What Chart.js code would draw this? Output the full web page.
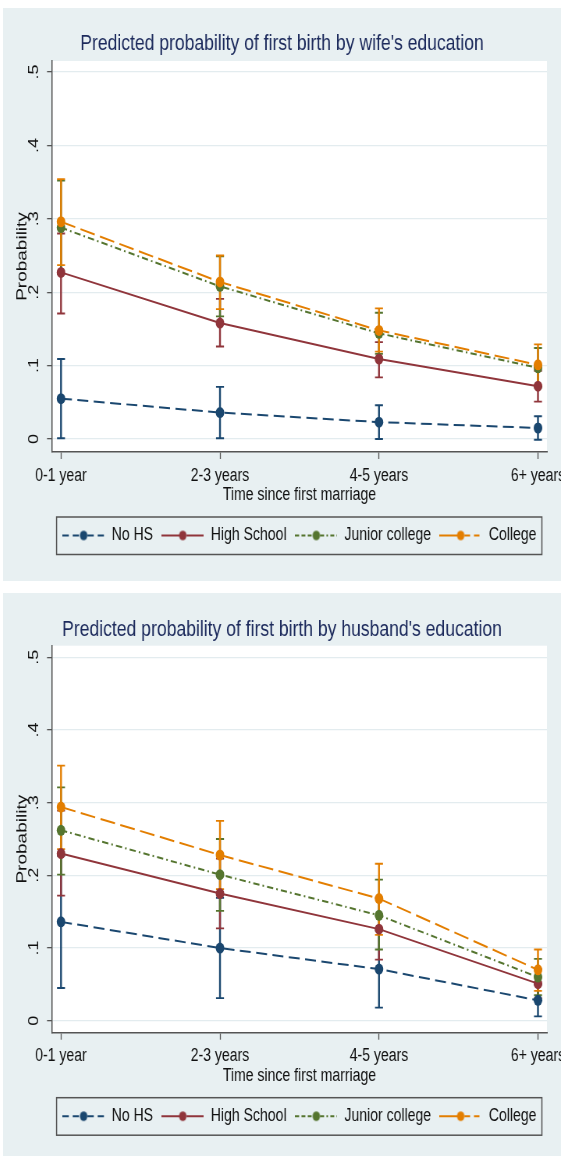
<!DOCTYPE html>
<html>
<head>
<meta charset="utf-8">
<title>Predicted probability of first birth</title>
<script src="https://cdn.jsdelivr.net/npm/chart.js@4.4.1/dist/chart.umd.min.js"></script>
<style>
  html, body { margin: 0; padding: 0; background: #fff; overflow: hidden; }
  body { width: 566px; height: 1156px; position: relative; }
  canvas { position: absolute; }
</style>
</head>
<body>
<canvas id="wifeChart" width="715" height="573" style="left:3px;top:8px;width:558px;height:573px"></canvas>
<canvas id="husbandChart" width="715" height="563" style="left:3px;top:593px;width:558px;height:563px"></canvas>
<script>
// Categories and tick labels
const categories = ['0-1 year', '2-3 years', '4-5 years', '6+ years'];
const seriesNames = ['No HS', 'High School', 'Junior college', 'College'];
const yTicks = [0, 0.1, 0.2, 0.3, 0.4, 0.5];
const yTickLabels = ['0', '.1', '.2', '.3', '.4', '.5'];

// Wife's education: predicted probability and CI bounds
const wifeNoHS = [0.055, 0.036, 0.023, 0.015];
const wifeHighSchool = [0.227, 0.158, 0.109, 0.072];
const wifeJuniorCollege = [0.288, 0.208, 0.144, 0.097];
const wifeCollege = [0.296, 0.214, 0.148, 0.101];
const wifeNoHSLow = [0.001, 0.001, 0.000, -0.001];
const wifeNoHSHigh = [0.109, 0.071, 0.046, 0.031];
const wifeHighSchoolLow = [0.171, 0.126, 0.084, 0.051];
const wifeHighSchoolHigh = [0.280, 0.191, 0.132, 0.093];
const wifeJuniorCollegeLow = [0.225, 0.167, 0.116, 0.070];
const wifeJuniorCollegeHigh = [0.352, 0.249, 0.172, 0.124];
const wifeCollegeLow = [0.237, 0.177, 0.119, 0.073];
const wifeCollegeHigh = [0.354, 0.250, 0.178, 0.129];

// Husband's education: predicted probability and CI bounds
const husbandNoHS = [0.136, 0.100, 0.071, 0.028];
const husbandHighSchool = [0.230, 0.175, 0.126, 0.051];
const husbandJuniorCollege = [0.262, 0.201, 0.145, 0.060];
const husbandCollege = [0.294, 0.228, 0.168, 0.070];
const husbandNoHSLow = [0.045, 0.031, 0.018, 0.006];
const husbandNoHSHigh = [0.227, 0.169, 0.124, 0.050];
const husbandHighSchoolLow = [0.172, 0.127, 0.084, 0.031];
const husbandHighSchoolHigh = [0.289, 0.223, 0.169, 0.071];
const husbandJuniorCollegeLow = [0.201, 0.151, 0.098, 0.035];
const husbandJuniorCollegeHigh = [0.321, 0.250, 0.194, 0.085];
const husbandCollegeLow = [0.236, 0.181, 0.118, 0.041];
const husbandCollegeHigh = [0.351, 0.275, 0.216, 0.098];

Chart.defaults.font.family = '"Liberation Sans", Arial, sans-serif';
Chart.defaults.color = '#111';

const seriesColors = ['#1a476f', '#90353b', '#55752f', '#e37e00'];
const seriesDash = [[14, 7], [], [8, 4, 2, 4], [19, 7]];
const iconDash = [
    { left: [8, 5], right: [8, 5] },
    { left: [], right: [] },
    { left: [5, 3], right: [5, 3, 2, 3] },
    { left: [], right: [7, 5] }
];

// legend symbol: line with a marker in the middle
function legendIcon(color, spec) {
    const c = document.createElement('canvas');
    c.width = 54;
    c.height = 12;
    const g = c.getContext('2d');
    g.strokeStyle = color;
    g.lineWidth = 2;
    g.setLineDash(spec.left);
    g.beginPath(); g.moveTo(0, 6); g.lineTo(27, 6); g.stroke();
    g.setLineDash(spec.right);
    g.beginPath(); g.moveTo(32, 6); g.lineTo(54, 6); g.stroke();
    g.fillStyle = color;
    g.beginPath(); g.arc(27, 6, 4.8, 0, Math.PI * 2); g.fill();
    return c;
}
const legendIcons = seriesColors.map((c, i) => legendIcon(c, iconDash[i]));

// panel background, white plot region and the legend frame
const panelBackground = {
    id: 'panelBackground',
    beforeDraw(chart) {
        const { ctx, chartArea: a } = chart;
        ctx.save();
        ctx.fillStyle = '#e8f0f2';
        ctx.fillRect(0, 0, chart.width, chart.height);
        ctx.fillStyle = '#ffffff';
        ctx.fillRect(a.left, a.top, a.right - a.left, a.bottom - a.top);
        ctx.restore();
    },
    afterDraw(chart) {
        const lg = chart.legend;
        const boxes = lg.legendHitBoxes;
        const left = Math.min(...boxes.map(b => b.left)) - 7.7;
        const right = Math.max(...boxes.map(b => b.left + b.width)) + 7;
        const ctx = chart.ctx;
        ctx.save();
        ctx.strokeStyle = '#555';
        ctx.lineWidth = 1.5;
        ctx.strokeRect(left, lg.top + 1.5, right - left, lg.bottom - lg.top - 1.5);
        ctx.restore();
    }
};

// confidence interval caps
const errorBars = {
    id: 'errorBars',
    beforeDatasetsDraw(chart) {
        const { ctx, scales: { x, y } } = chart;
        const half = 5.1;
        ctx.save();
        chart.data.datasets.forEach(ds => {
            ctx.strokeStyle = ds.borderColor;
            ds.ci.forEach(([lo, hi], i) => {
                const px = x.getPixelForValue(i);
                const top = y.getPixelForValue(hi);
                const bot = y.getPixelForValue(lo);
                ctx.lineWidth = 2.4;
                ctx.beginPath(); ctx.moveTo(px, top); ctx.lineTo(px, bot); ctx.stroke();
                ctx.lineWidth = 1.8;
                ctx.beginPath();
                ctx.moveTo(px - half, top); ctx.lineTo(px + half, top);
                ctx.moveTo(px - half, bot); ctx.lineTo(px + half, bot);
                ctx.stroke();
            });
        });
        ctx.restore();
    }
};

function makeChart(id, title, values, lows, highs, yMin, yMax, titlePad, bottomPad) {
    return new Chart(document.getElementById(id), {
        type: 'line',
        data: {
            datasets: seriesNames.map((name, s) => ({
                label: name,
                data: values[s].map((v, i) => ({ x: i, y: v })),
                ci: lows[s].map((lo, i) => [lo, highs[s][i]]),
                borderColor: seriesColors[s],
                backgroundColor: seriesColors[s],
                borderWidth: 2,
                borderDash: seriesDash[s],
                pointRadius: 5.5,
                pointBorderWidth: 0,
                pointBackgroundColor: seriesColors[s],
                order: 3 - s
            }))
        },
        options: {
            responsive: false,
            animation: false,
            events: [],
            layout: { padding: { left: 18, right: 18, top: 0, bottom: bottomPad } },
            plugins: {
                title: {
                    display: true,
                    text: title,
                    color: '#1c2a5c',
                    font: { size: 22.5, weight: 'normal' },
                    padding: titlePad
                },
                legend: {
                    position: 'bottom',
                    fullSize: false,
                    labels: {
                        usePointStyle: true,
                        pointStyleWidth: 54,
                        padding: 11,
                        font: { size: 18 },
                        color: '#111',
                        sort: (a, b) => a.datasetIndex - b.datasetIndex,
                        generateLabels: chart => Chart.defaults.plugins.legend.labels.generateLabels(chart)
                            .map(item => ({ ...item, pointStyle: legendIcons[item.datasetIndex] }))
                    }
                },
                tooltip: { enabled: false }
            },
            scales: {
                x: {
                    type: 'linear',
                    min: -0.0565,
                    max: 3.0565,
                    afterBuildTicks: s => { s.ticks = categories.map((c, i) => ({ value: i })); },
                    afterFit: s => { s.height = 63.5; s.paddingLeft = 0; s.paddingRight = 0; },
                    ticks: {
                        callback: v => categories[v],
                        font: { size: 18 },
                        color: '#111',
                        padding: 6,
                        maxRotation: 0,
                        autoSkip: false
                    },
                    grid: { drawOnChartArea: false, tickLength: 7, tickColor: '#555', tickWidth: 1.3 },
                    border: { color: '#555', width: 1.5 },
                    title: {
                        display: true,
                        text: 'Time since first marriage',
                        font: { size: 18 },
                        color: '#111',
                        padding: { top: 0, bottom: 9.7 }
                    }
                },
                y: {
                    min: yMin,
                    max: yMax,
                    afterBuildTicks: s => { s.ticks = yTicks.map(v => ({ value: v })); },
                    afterFit: s => { s.width = 44.8; s.paddingTop = 0; s.paddingBottom = 0; },
                    ticks: {
                        callback: (v, i) => yTickLabels[i],
                        minRotation: 90,
                        maxRotation: 90,
                        crossAlign: 'center',
                        padding: 9.2,
                        font: { size: 18 },
                        color: '#111'
                    },
                    grid: { color: '#e3ecef', lineWidth: 1.3, tickLength: 6.4, tickColor: '#555', tickWidth: 1.3 },
                    border: { color: '#555', width: 1.5 },
                    title: {
                        display: true,
                        text: 'Probability',
                        font: { size: 19 },
                        color: '#111',
                        padding: { top: -5.1, bottom: 0 }
                    }
                }
            }
        },
        plugins: [panelBackground, errorBars]
    });
}

const wifeChart = makeChart('wifeChart',
    "Predicted probability of first birth by wife's education",
    [wifeNoHS, wifeHighSchool, wifeJuniorCollege, wifeCollege],
    [wifeNoHSLow, wifeHighSchoolLow, wifeJuniorCollegeLow, wifeCollegeLow],
    [wifeNoHSHigh, wifeHighSchoolHigh, wifeJuniorCollegeHigh, wifeCollegeHigh],
    -0.0177, 0.515, { top: 22.5, bottom: 3.5 }, 26.5);

const husbandChart = makeChart('husbandChart',
    "Predicted probability of first birth by husband's education",
    [husbandNoHS, husbandHighSchool, husbandJuniorCollege, husbandCollege],
    [husbandNoHSLow, husbandHighSchoolLow, husbandJuniorCollegeLow, husbandCollegeLow],
    [husbandNoHSHigh, husbandHighSchoolHigh, husbandJuniorCollegeHigh, husbandCollegeHigh],
    -0.0165, 0.516, { top: 23.5, bottom: 2.2 }, 20.8);
</script>
</body>
</html>
